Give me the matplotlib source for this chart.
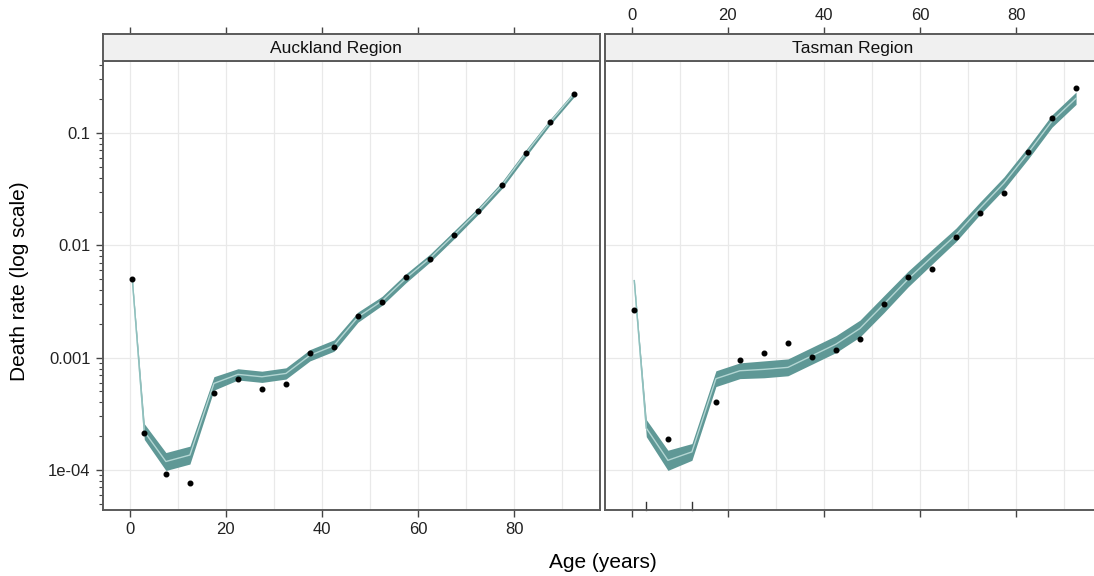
import numpy as np
import matplotlib
matplotlib.use('Agg')
import matplotlib.pyplot as plt
import matplotlib.transforms as mtransforms

plt.rcParams['font.family'] = ['Liberation Sans', 'DejaVu Sans']

# ---- data ----
ages = [0.5, 3, 7.5, 12.5, 17.5, 22.5, 27.5, 32.5, 37.5, 42.5,
        47.5, 52.5, 57.5, 62.5, 67.5, 72.5, 77.5, 82.5, 87.5, 92.5]
regions = ['Auckland Region', 'Tasman Region']

# observed rates (0 = no deaths, shown as rug)
akl_obs = [5.0e-3, 2.12e-4, 9.3e-5, 7.7e-5, 4.88e-4, 6.44e-4, 5.22e-4, 5.78e-4, 1.11e-3, 1.25e-3,
           2.34e-3, 3.13e-3, 5.22e-3, 7.55e-3, 0.0124, 0.0202, 0.0344, 0.0664, 0.125, 0.222]
tas_obs = [2.67e-3, 0, 1.9e-4, 0, 4.0e-4, 9.46e-4, 1.11e-3, 1.35e-3, 1.01e-3, 1.16e-3,
           1.47e-3, 2.98e-3, 5.22e-3, 6.15e-3, 0.01186, 0.0194, 0.0292, 0.0678, 0.136, 0.252]

# modelled rates: median and band
akl_med = [5.0e-3, 2.2e-4, 1.19e-4, 1.36e-4, 5.9e-4, 7.1e-4, 6.76e-4, 7.24e-4, 1.05e-3, 1.28e-3,
           2.3e-3, 3.2e-3, 5.1e-3, 7.7e-3, 0.0124, 0.0202, 0.0344, 0.0664, 0.125, 0.222]
akl_lo = [4.89e-3, 1.87e-4, 9.9e-5, 1.13e-4, 5.14e-4, 6.33e-4, 6.02e-4, 6.45e-4, 9.36e-4, 1.14e-3,
          2.07e-3, 2.92e-3, 4.65e-3, 7.10e-3, 0.01144, 0.01884, 0.0321, 0.0619, 0.1180, 0.2096]
akl_hi = [5.12e-3, 2.58e-4, 1.43e-4, 1.63e-4, 6.77e-4, 7.97e-4, 7.58e-4, 8.12e-4, 1.18e-3, 1.44e-3,
          2.55e-3, 3.51e-3, 5.59e-3, 8.35e-3, 0.01344, 0.02165, 0.0369, 0.0712, 0.1324, 0.2351]

tas_med = [4.85e-3, 2.36e-4, 1.22e-4, 1.45e-4, 6.5e-4, 7.65e-4, 7.87e-4, 8.2e-4, 1.04e-3, 1.32e-3,
           1.82e-3, 3.0e-3, 5.0e-3, 7.9e-3, 0.0124, 0.0214, 0.0359, 0.0664, 0.128, 0.204]
tas_lo = [4.79e-3, 1.98e-4, 9.92e-5, 1.22e-4, 5.53e-4, 6.51e-4, 6.62e-4, 6.90e-4, 8.75e-4, 1.11e-3,
          1.53e-3, 2.52e-3, 4.26e-3, 6.80e-3, 0.0108, 0.01885, 0.0316, 0.0585, 0.1128, 0.1797]
tas_hi = [4.91e-3, 2.81e-4, 1.50e-4, 1.72e-4, 7.64e-4, 8.99e-4, 9.36e-4, 9.75e-4, 1.237e-3, 1.57e-3,
          2.16e-3, 3.57e-3, 5.88e-3, 9.17e-3, 0.01424, 0.02429, 0.0407, 0.0754, 0.1453, 0.2315]

xticks = [0, 20, 40, 60, 80]
yticks = [1e-4, 1e-3, 1e-2, 1e-1]
yticklabels = ['1e-04', '0.001', '0.01', '0.1']

# ---- layout ----
FW, FH = 1094, 576
fig = plt.figure(figsize=(FW / 100, FH / 100), dpi=100)
pw = (600 - 103) / FW
lefts = [103 / FW, 605 / FW]
strip_text_x = [336 / FW, 853 / FW]
spine_col = '#5a5a5a'
band_col = '#5f9896'
med_col = '#b3d6d3'

series = [(akl_obs, akl_med, akl_lo, akl_hi), (tas_obs, tas_med, tas_lo, tas_hi)]

for i, (obs, med, lo, hi) in enumerate(series):
  ax = fig.add_axes([lefts[i], 1 - 510 / FH, pw, 449 / FH])
  strip = fig.add_axes([lefts[i], 1 - 61 / FH, pw, 27 / FH])

  ax.set_yscale('log')
  ax.set_xlim(-5.6, 97.9)
  ax.set_ylim(10 ** -4.356, 10 ** -0.359)

  for gx in range(0, 100, 10):
    ax.axvline(gx, color='#e9e9e9', lw=0.9, zorder=0)
  for gy in yticks:
    ax.axhline(gy, color='#e9e9e9', lw=0.9, zorder=0)

  ax.fill_between(ages, lo, hi, color=band_col, lw=0, zorder=2)
  ax.plot(ages, med, color=med_col, lw=1.0, zorder=3)
  ax.plot(ages[:2], med[:2], color='#8fc0bd', lw=1.0, zorder=3)

  a = np.array(ages)
  o = np.array(obs)
  ax.plot(a[o > 0], o[o > 0], 'o', ms=3.3, color='black', zorder=4)
  # rug for zero counts
  trans = mtransforms.blended_transform_factory(ax.transData, ax.transAxes)
  for z in a[o == 0]:
    ax.plot([z, z], [0, 0.017], color='#333333', lw=1.0, transform=trans, clip_on=False)

  for sp in ax.spines.values():
    sp.set_color(spine_col)
    sp.set_linewidth(1.4)

  ax.set_xticks(xticks)
  ax.set_yticks(yticks)
  ax.set_yticklabels(yticklabels)
  ax.tick_params(axis='both', which='major', direction='out', length=5, width=1,
                 color='#444444', labelsize=12, labelcolor='#222222', pad=4)
  ax.tick_params(axis='y', which='minor', direction='out', length=3, width=0.8, color='#444444')
  ax.tick_params(axis='x', bottom=True, labelbottom=(i == 0), top=False)
  ax.tick_params(axis='y', which='both', left=(i == 0), labelleft=(i == 0), right=False, labelright=False)

  # strip
  strip.set_facecolor('#f0f0f0')
  strip.set_xlim(ax.get_xlim())
  strip.set_ylim(0, 1)
  strip.set_yticks([])
  strip.set_xticks(xticks)
  strip.tick_params(axis='x', top=True, bottom=False, labelbottom=False, labeltop=(i == 1),
                    direction='out', length=5, width=1, color='#444444',
                    labelsize=12, labelcolor='#222222', pad=3)
  for sp in strip.spines.values():
    sp.set_color(spine_col)
    sp.set_linewidth(1.4)
  fig.text(strip_text_x[i], 1 - 48 / FH, regions[i], ha='center', va='center',
           fontsize=12.5, color='#111111')

fig.text(603 / FW, 1 - 563 / FH, 'Age (years)', ha='center', va='center', fontsize=15)
fig.text(20 / FW, 1 - 281 / FH, 'Death rate (log scale)', ha='center', va='center',
         rotation=90, fontsize=15)

fig.savefig('out.png', dpi=100)
